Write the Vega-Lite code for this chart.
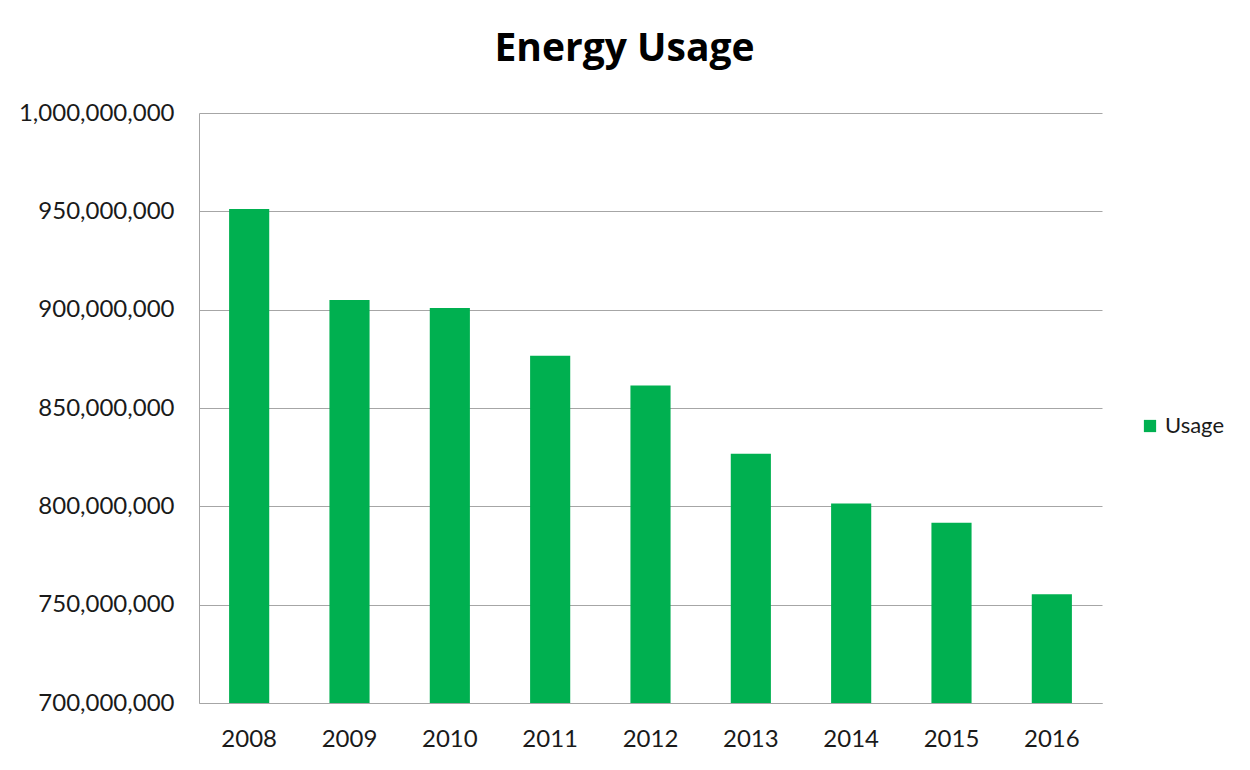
{
  "$schema": "https://vega.github.io/schema/vega-lite/v6.json",
  "width": 903,
  "height": 590,
  "autosize": {"type": "none"},
  "padding": {"left": 199, "top": 113, "right": 148, "bottom": 67},
  "background": "white",
  "config": {
    "font": "Lato",
    "view": {"stroke": null}
  },
  "title": {
    "text": "Energy Usage",
    "fontSize": 39,
    "fontWeight": "bold",
    "font": "Open Sans",
    "color": "#000000",
    "anchor": "middle",
    "dx": -26,
    "offset": 1,
    "baseline": "alphabetic"
  },
  "data": {
    "values": [
      {"year": "2008", "series": "Usage", "usage": 951200000},
      {"year": "2009", "series": "Usage", "usage": 904900000},
      {"year": "2010", "series": "Usage", "usage": 900900000},
      {"year": "2011", "series": "Usage", "usage": 876600000},
      {"year": "2012", "series": "Usage", "usage": 861400000},
      {"year": "2013", "series": "Usage", "usage": 826800000},
      {"year": "2014", "series": "Usage", "usage": 801400000},
      {"year": "2015", "series": "Usage", "usage": 791700000},
      {"year": "2016", "series": "Usage", "usage": 755300000}
    ]
  },
  "mark": {"type": "bar", "clip": true},
  "encoding": {
    "x": {
      "field": "year",
      "type": "ordinal",
      "scale": {"paddingInner": 0.6, "paddingOuter": 0.3},
      "axis": {
        "title": null,
        "labelAngle": 0,
        "labelFontSize": 24,
        "labelColor": "#1a1a1a",
        "labelPadding": 24,
        "ticks": false,
        "domainColor": "#a6a6a6",
        "domainWidth": 1
      }
    },
    "y": {
      "field": "usage",
      "type": "quantitative",
      "scale": {"domain": [700000000, 1000000000], "zero": false, "nice": false},
      "axis": {
        "title": null,
        "values": [700000000, 750000000, 800000000, 850000000, 900000000, 950000000, 1000000000],
        "format": ",d",
        "labelFontSize": 24,
        "labelColor": "#1a1a1a",
        "labelPadding": 25,
        "ticks": false,
        "domainColor": "#a6a6a6",
        "domainWidth": 1,
        "gridColor": "#a6a6a6",
        "gridWidth": 1
      }
    },
    "color": {
      "field": "series",
      "type": "nominal",
      "scale": {"range": ["#00b050"]},
      "legend": {
        "title": null,
        "orient": "none",
        "legendX": 940,
        "legendY": 302,
        "symbolType": "square",
        "symbolSize": 150,
        "symbolStrokeWidth": 0,
        "labelFontSize": 22,
        "labelColor": "#1a1a1a",
        "labelOffset": 4
      }
    }
  }
}
